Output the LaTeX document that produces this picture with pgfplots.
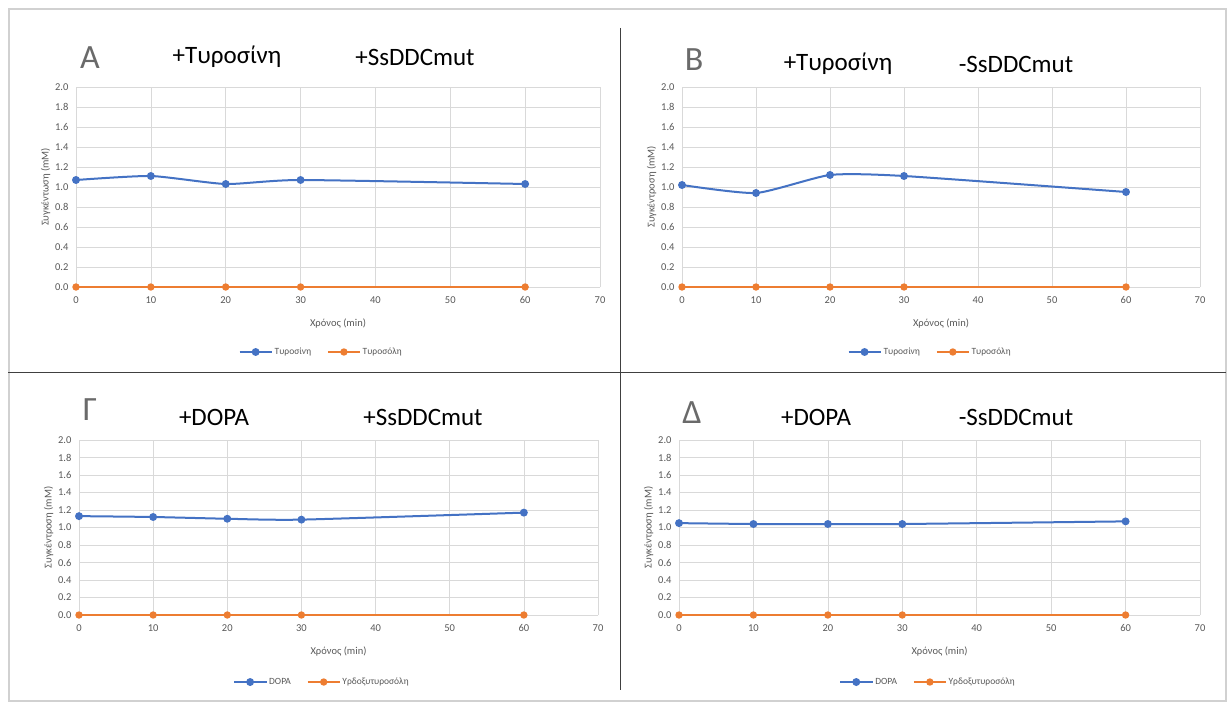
\documentclass[border=0pt]{standalone}
\usepackage{pgfplots}
\pgfplotsset{compat=1.18}
\usepackage{fontspec}
\setmainfont{Carlito}
\definecolor{xblue}{HTML}{4472C4}
\definecolor{xorange}{HTML}{ED7D31}
\definecolor{gridgray}{HTML}{D9D9D9}
\definecolor{labelgray}{HTML}{595959}
\definecolor{lettergray}{HTML}{6A6A6A}
\pgfplotsset{
  panel/.style={
    scale only axis,
    xmin=0, xmax=70, ymin=0, ymax=2,
    xtick={0,10,20,30,40,50,60,70},
    ytick={0,0.2,0.4,0.6,0.8,1.0,1.2,1.4,1.6,1.8,2.0},
    grid=major,
    major grid style={draw=gridgray, line width=0.7pt},
    axis line style={draw=none},
    tick style={draw=none},
    /pgf/number format/assume math mode=true,
    tick label style={font=\fontsize{10.5}{12}\selectfont, text=labelgray},
    yticklabel style={xshift=-4pt, /pgf/number format/.cd, fixed, fixed zerofill, precision=1},
    xticklabel style={yshift=-6pt},
    label style={font=\fontsize{10.5}{12}\selectfont, text=labelgray},
    xlabel={Χρόνος (min)},
    xlabel style={yshift=-8pt},
    ylabel style={yshift=-2pt},
    legend columns=2,
    legend style={draw=none, fill=none, font=\fontsize{9.5}{11}\selectfont, text=labelgray,
      anchor=center, /tikz/every even column/.append style={column sep=14pt}},
    legend image code/.code={\draw[mark repeat=2,mark phase=2,##1] plot coordinates {(0pt,0pt)(16pt,0pt)(32pt,0pt)};},
  },
  sblue/.style={color=xblue, line width=2pt, smooth, tension=0.35, mark=*, mark size=2.9pt, mark options={solid, fill=xblue}},
  sorange/.style={color=xorange, line width=1.5pt, smooth, mark=*, mark size=2.9pt, mark options={solid, fill=xorange}},
}
\begin{document}
\begin{tikzpicture}
\fill[white] (0pt,0pt) rectangle (1230pt,705pt);
\draw[black!18, line width=1.6pt] (9pt,696pt) rectangle (1226pt,4pt);
\draw[black!75, line width=1pt] (620pt,677pt) -- (620pt,15pt);
\draw[black!75, line width=1pt] (8pt,333pt) -- (1226pt,333pt);

% Panel A
\begin{axis}[panel, at={(76pt,418pt)}, anchor=south west, width=524pt, height=200pt,
  ylabel={Συγκέντωση (mM)},
  legend style={at={(axis description cs:0.468,-0.325)}}]
\addplot[sblue] coordinates {(0,1.07) (10,1.11) (20,1.03) (30,1.07) (60,1.03)};
\addplot[sorange] coordinates {(0,0) (10,0) (20,0) (30,0) (60,0)};
\legend{Τυροσίνη, Τυροσόλη}
\end{axis}
\node[text=lettergray, font=\fontsize{34}{36}\selectfont] at (90pt,647pt) {A};
\node[font=\fontsize{25}{28}\selectfont] at (227pt,648pt) {+Τυροσίνη};
\node[font=\fontsize{25}{28}\selectfont] at (415pt,648pt) {+SsDDCmut};

% Panel B
\begin{axis}[panel, at={(682pt,418pt)}, anchor=south west, width=518pt, height=200pt,
  ylabel={Συγκέντροση (mM)},
  legend style={at={(axis description cs:0.479,-0.325)}}]
\addplot[sblue] coordinates {(0,1.02) (10,0.94) (20,1.12) (30,1.11) (60,0.95)};
\addplot[sorange] coordinates {(0,0) (10,0) (20,0) (30,0) (60,0)};
\legend{Τυροσίνη, Τυροσόλη}
\end{axis}
\node[text=lettergray, font=\fontsize{34}{36}\selectfont] at (694pt,645pt) {B};
\node[font=\fontsize{25}{28}\selectfont] at (838pt,641pt) {+Τυροσίνη};
\node[font=\fontsize{25}{28}\selectfont] at (1016pt,641pt) {-SsDDCmut};

% Panel Gamma
\begin{axis}[panel, at={(79pt,90pt)}, anchor=south west, width=519pt, height=175pt,
  ylabel={Συγκέντροση (mM)},
  legend style={at={(axis description cs:0.468,-0.383)}}]
\addplot[sblue] coordinates {(0,1.13) (10,1.12) (20,1.10) (30,1.09) (60,1.17)};
\addplot[sorange] coordinates {(0,0) (10,0) (20,0) (30,0) (60,0)};
\legend{DOPA, Υρδοξυτυροσόλη}
\end{axis}
\node[text=lettergray, font=\fontsize{34}{36}\selectfont] at (90pt,295pt) {Γ};
\node[font=\fontsize{25}{28}\selectfont] at (214pt,288pt) {+DOPA};
\node[font=\fontsize{25}{28}\selectfont] at (423pt,288pt) {+SsDDCmut};

% Panel Delta
\begin{axis}[panel, at={(679pt,90pt)}, anchor=south west, width=521pt, height=175pt,
  ylabel={Συγκέντροση (mM)},
  legend style={at={(axis description cs:0.478,-0.383)}}]
\addplot[sblue] coordinates {(0,1.05) (10,1.04) (20,1.04) (30,1.04) (60,1.07)};
\addplot[sorange] coordinates {(0,0) (10,0) (20,0) (30,0) (60,0)};
\legend{DOPA, Υρδοξυτυροσόλη}
\end{axis}
\node[text=lettergray, font=\fontsize{34}{36}\selectfont] at (692pt,292pt) {Δ};
\node[font=\fontsize{25}{28}\selectfont] at (816pt,288pt) {+DOPA};
\node[font=\fontsize{25}{28}\selectfont] at (1016pt,288pt) {-SsDDCmut};
\end{tikzpicture}
\end{document}
